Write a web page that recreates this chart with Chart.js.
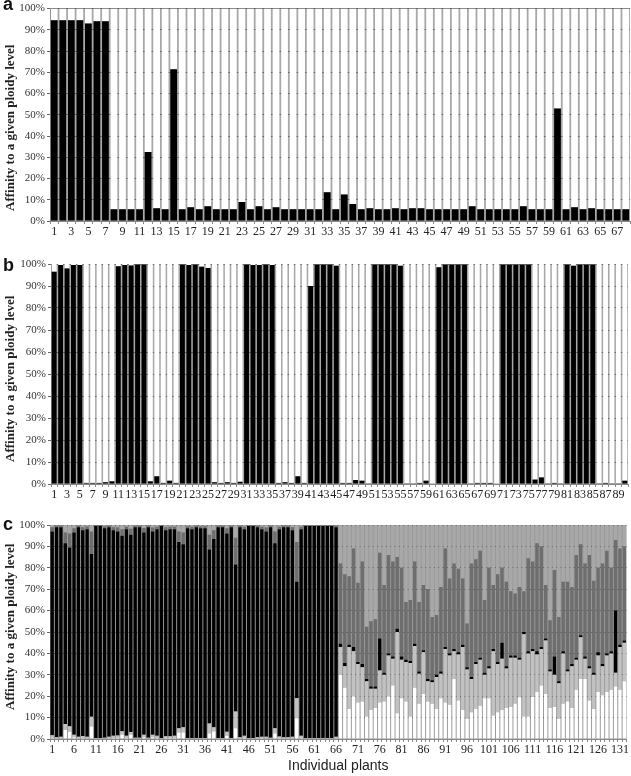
<!DOCTYPE html>
<html>
<head>
<meta charset="utf-8">
<script src="https://cdn.jsdelivr.net/npm/chart.js@4.4.1/dist/chart.umd.min.js"></script>
<style>
  body { margin: 0; background: #fff; width: 631px; height: 776px; position: relative; overflow: hidden; }
  canvas { position: absolute; left: 0; }
  .panel { position: absolute; left: 3px; font: bold 18px "Liberation Sans", Arial, sans-serif; line-height: 18px; color: #111; }
  .ytitle { position: absolute; left: 3px; transform-origin: 0 0; transform: rotate(-90deg); white-space: nowrap;
            font: bold 13px "Liberation Serif", "Times New Roman", serif; line-height: 14px; color: #222; }
</style>
</head>
<body>
<canvas id="chartA" width="631" height="245" style="top:0"></canvas>
<canvas id="chartB" width="631" height="258" style="top:250px"></canvas>
<canvas id="chartC" width="631" height="266" style="top:510px"></canvas>
<div class="panel" style="top:-5px">a</div>
<div class="panel" style="top:256px">b</div>
<div class="panel" style="top:515px">c</div>
<div class="ytitle" style="top:211px">Affinity to a given ploidy level</div>
<div class="ytitle" style="top:462px">Affinity to a given ploidy level</div>
<div class="ytitle" style="top:710px">Affinity to a given ploidy level</div>
<script>
// panel a: affinity of the black class per plant (%)
const aBlack = [94.5, 94.5, 94.5, 94.5, 93, 94, 94, 5.5, 5.5, 5.5, 5.5, 32.5, 6, 5.5, 71.5, 5.5, 6.5, 5.5, 7, 5.5,
  5.5, 5.5, 9, 5.5, 7, 5.5, 6.5, 5.5, 5.5, 5.5, 5.5, 5.5, 13.5, 5.5, 12.5, 8, 5.5, 6, 5.5, 5.5,
  6, 5.5, 6, 6, 5.5, 5.5, 5.5, 5.5, 5.5, 7, 5.5, 5.5, 5.5, 5.5, 5.5, 7, 5.5, 5.5, 5.5, 53,
  5.5, 6.5, 5.5, 6, 5.5, 5.5, 5.5, 5.5];

// panel b
const bBlack = [96.5, 99.5, 98, 99.5, 99.5, 0.5, 0.5, 0.5, 0.8, 1.2, 99, 99.5, 99.3, 99.8, 99.8, 1.2, 3.5, 0.5, 1.5, 0.5,
  99.8, 99.5, 99.8, 98.8, 98.2, 0.8, 0.5, 0.8, 0.5, 1, 99.8, 99.5, 99.5, 99.8, 99.5, 0.5, 0.8, 0.5, 3.5, 0.5,
  90, 99.8, 99.8, 99.8, 99.2, 0.5, 0.5, 1.8, 1.5, 0.3, 99.8, 99.8, 99.8, 99.8, 99.2, 0.3, 0.3, 0.5, 1.5, 0.2,
  98.5, 99.8, 99.8, 99.8, 99.8, 0.3, 0.5, 0.5, 0.5, 0.2, 99.8, 99.8, 99.8, 99.8, 99.8, 2, 3, 0.3, 0.5, 0.3,
  99.8, 99.2, 99.8, 99.8, 99.8, 0.3, 0.5, 0.3, 0.3, 1.5];

// panel c: cumulative tops of each class (%), bottom to top
const cWhite = [0.5, 0.3, 0.3, 4.2, 3.4, 0.8, 0.3, 0.5, 0.3, 5.8, 0.2, 0.2, 0.2, 0.4, 0.5, 0.6, 2, 0.5, 2, 0.2,
  0.2, 0.8, 0.2, 0.8, 0.5, 0.2, 0.5, 0.5, 0.5, 3, 3, 0.2, 0.2, 0.2, 0.2, 0.2, 2.6, 3.5, 0.2, 0.2,
  1.5, 0.2, 5, 0.3, 0.5, 0.2, 0.2, 0.3, 0.5, 0.4, 0.2, 2.6, 0.5, 0.3, 0.3, 0.4, 9.7, 0.5, 0.2, 0.2,
  0.2, 0.2, 0.2, 0.2, 0.2, 0.4,
  30, 24, 14, 20, 17, 17.5, 10.5, 13.5, 14.5, 17, 17.5, 20, 25, 12, 19, 17.5, 10.5, 24, 16.5, 21,
  17.5, 16.5, 14, 19, 17, 16, 28, 18, 13.5, 9.5, 12.5, 14, 15.5, 19, 19, 11, 12.5, 13.5, 14.5, 15,
  16.5, 19.5, 10.5, 10.5, 19.8, 22, 25, 21, 14.5, 15, 9.5, 16.5, 17.5, 14.5, 23, 28, 28, 18, 14, 22,
  20.5, 22, 23, 24.5, 23, 27];
const cLight = [1.8, 0.8, 1, 7, 6, 2, 1, 1.4, 1, 10.4, 0.5, 0.5, 0.6, 1, 1.5, 1.6, 3.6, 1.5, 3.3, 0.6,
  0.6, 2, 0.6, 2, 1.5, 0.5, 1.3, 1.3, 1.5, 5, 5.5, 0.5, 0.5, 0.5, 0.5, 0.5, 7.3, 5.5, 0.5, 0.5,
  3.4, 0.5, 12.8, 0.8, 1.5, 0.5, 0.5, 0.8, 1, 1, 0.6, 5, 1.2, 0.8, 0.8, 1, 19, 1.5, 0.5, 0.5,
  0.5, 0.5, 0.5, 0.5, 0.5, 1,
  43, 34, 43, 41, 35, 33.5, 27, 23.5, 23.5, 32, 30, 39, 37.5, 50, 37, 36, 35.5, 43.5, 30.5, 40.5,
  27, 26.5, 29, 30.5, 42, 39, 41, 39.5, 43, 32.5, 28, 35, 37, 30, 33, 41, 35, 37.5, 33, 38,
  38, 37, 49, 40, 41, 39.5, 42, 46, 31.5, 30, 26, 40, 31.5, 34, 37, 47.5, 37.5, 33, 30, 39,
  34, 39, 40, 31, 43, 45];
const cBlack = [97, 99, 99, 91.5, 89.5, 96.5, 99, 97.5, 98, 86.5, 99.5, 99.5, 98.5, 99, 97.5, 97, 95, 98, 95.5, 99,
  99, 96.5, 99, 97, 98, 99.5, 97.5, 98, 98, 92, 91, 98.5, 98, 99, 98.5, 98.5, 88.5, 93.5, 99, 99,
  96, 99, 81.5, 99, 98, 99.5, 99.5, 99, 98, 97, 99, 91.5, 98, 99, 99, 97.5, 73.5, 98, 99.5, 99.5,
  99.5, 99.5, 99.5, 99.5, 99.5, 99,
  44.5, 35.5, 44, 43, 36, 35, 28, 24.5, 24.5, 47, 31, 40, 38.5, 51.5, 38.5, 37, 36.5, 44.5, 31.5, 41.5,
  28, 27.5, 30, 31.5, 43, 40, 42, 40.5, 44, 33.5, 29, 36, 38, 31, 34, 42, 36, 45, 34, 39,
  39, 38, 50, 41, 42, 41, 43, 47, 32.5, 38.5, 27, 41, 32.5, 35, 38, 48.5, 38.5, 34, 31, 40.5,
  35, 40, 41, 60, 44, 46];
const cDark = [99, 99.6, 99.6, 96.5, 96, 98.5, 99.6, 99, 99.3, 97, 99.8, 99.8, 99.4, 99.6, 99, 98.8, 98, 99.2, 98.3, 99.6,
  99.6, 98.6, 99.6, 98.8, 99.2, 99.8, 99, 99.2, 99.2, 97, 96.5, 99.4, 99.2, 99.6, 99.4, 99.4, 95.5, 97.5, 99.6, 99.6,
  98.5, 99.6, 94, 99.6, 99.2, 99.8, 99.8, 99.6, 99.2, 98.8, 99.6, 97, 99.2, 99.6, 99.6, 99, 92, 99.2, 99.8, 99.8,
  99.8, 99.8, 99.8, 99.8, 99.8, 99.6,
  82, 77, 76, 89, 73, 83, 52.5, 55, 56, 87, 72, 86, 83, 85, 80, 64, 65, 83, 64, 72,
  70, 57, 58, 71, 89, 75, 82, 79.5, 75, 54, 82, 84, 88, 65, 80, 72, 77, 80, 73.5, 69,
  68, 71, 69, 84.5, 83, 91.5, 90, 72, 55.5, 79, 57, 73.5, 73.5, 71, 86, 91, 82, 86, 74, 80,
  82, 88, 80, 93, 89, 90];

const aLabels = Array.from({ length: aBlack.length }, (_, i) => String(i + 1));
const bLabels = Array.from({ length: bBlack.length }, (_, i) => String(i + 1));
const cLabels = Array.from({ length: cWhite.length }, (_, i) => String(i + 1));

// grey behind the bars so the gaps show grey and the grid looks dotted
const plotBackground = {
  id: "plotBackground",
  beforeDraw(chart, args, opts) {
    const { ctx, chartArea } = chart;
    ctx.save();
    ctx.fillStyle = opts.color || "#a6a6a6";
    ctx.fillRect(chartArea.left, chartArea.top, chartArea.right - chartArea.left, chartArea.bottom - chartArea.top);
    ctx.restore();
  },
};

const serif = "'Liberation Serif', 'Times New Roman', serif";

function makeOptions(cfg) {
  return {
    responsive: false,
    animation: false,
    layout: { padding: cfg.padding },
    plugins: {
      legend: { display: false },
      tooltip: { enabled: false },
      plotBackground: { color: cfg.gapColor },
    },
    datasets: {
      bar: { categoryPercentage: 1, barPercentage: cfg.barPct, borderWidth: 0 },
    },
    scales: {
      x: {
        stacked: true,
        afterFit: (scale) => { scale.height = cfg.xHeight; },
        grid: { drawOnChartArea: false, drawTicks: true, tickLength: 3, offset: true, color: "#888" },
        border: { display: true, color: "#888" },
        ticks: {
          autoSkip: false,
          maxRotation: 0,
          padding: 1,
          color: "#222",
          font: { family: serif, size: 12 },
          callback: (value, index) => (index % cfg.every === 0 ? String(index + 1) : ""),
        },
        title: cfg.xTitle
          ? { display: true, text: cfg.xTitle, color: "#222", padding: { top: 0, bottom: 1 },
              font: { family: "'Liberation Sans', Arial, sans-serif", size: 14 } }
          : { display: false },
      },
      y: {
        stacked: true,
        min: 0,
        max: 100,
        afterFit: (scale) => { scale.width = 50; },
        grid: { color: "#666", lineWidth: 1, tickLength: 3 },
        border: { display: true, color: "#888" },
        ticks: {
          stepSize: 10,
          padding: 2,
          color: "#333",
          font: { family: serif, size: 11 },
          callback: (v) => v + "%",
        },
      },
    },
  };
}

new Chart(document.getElementById("chartA"), {
  type: "bar",
  plugins: [plotBackground],
  data: {
    labels: aLabels,
    datasets: [
      { data: aBlack, backgroundColor: "#000" },
      { data: aBlack.map((v) => 100 - v), backgroundColor: "#fff" },
    ],
  },
  options: makeOptions({ padding: { top: 5, left: 0, right: 1, bottom: 0 }, xHeight: 24, barPct: 0.79, every: 2, gapColor: "#a8a8a8" }),
});

new Chart(document.getElementById("chartB"), {
  type: "bar",
  plugins: [plotBackground],
  data: {
    labels: bLabels,
    datasets: [
      { data: bBlack, backgroundColor: "#000" },
      { data: bBlack.map((v) => 100 - v), backgroundColor: "#fff" },
    ],
  },
  options: makeOptions({ padding: { top: 14, left: 1, right: 3, bottom: 0 }, xHeight: 24, barPct: 0.76, every: 2, gapColor: "#a8a8a8" }),
});

// stacked segments from the cumulative tops
const seg = (hi, lo) => hi.map((v, i) => v - (lo ? lo[i] : 0));

new Chart(document.getElementById("chartC"), {
  type: "bar",
  plugins: [plotBackground],
  data: {
    labels: cLabels,
    datasets: [
      { data: seg(cWhite), backgroundColor: "#ffffff" },
      { data: seg(cLight, cWhite), backgroundColor: "#c2c2c2" },
      { data: seg(cBlack, cLight), backgroundColor: "#000000" },
      { data: seg(cDark, cBlack), backgroundColor: "#6e6e6e" },
      { data: cDark.map((v) => 100 - v), backgroundColor: "#a8a8a8" },
    ],
  },
  options: makeOptions({ padding: { top: 15, left: 0, right: 4.5, bottom: 0 }, xHeight: 37, barPct: 0.78, every: 5, gapColor: "#9a9a9a", xTitle: "Individual plants" }),
});
</script>
</body>
</html>
